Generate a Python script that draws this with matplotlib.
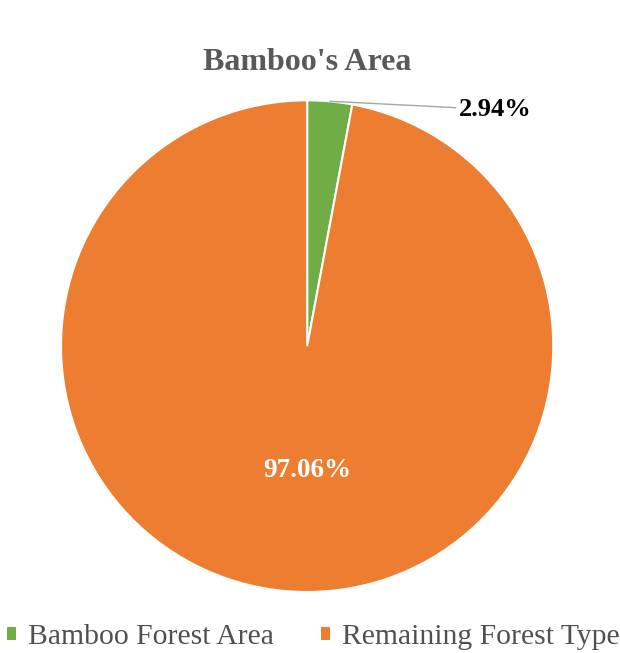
import numpy as np
import matplotlib
matplotlib.use("Agg")
import matplotlib.pyplot as plt
from matplotlib.patches import Patch

# ---------------
# Data
# ---------------
categories = ["Bamboo Forest Area", "Remaining Forest Type"]
shares = [2.94, 97.06]
labels = ["2.94%", "97.06%"]
colors = ["#70AD47", "#ED7D31"]

plt.rcParams['font.family'] = ['Liberation Serif', 'DejaVu Serif']

fig = plt.figure(figsize=(6.2, 6.53), dpi=100)
ax = fig.add_axes([0.0984, 0.0934, 0.794, 0.753])

wedges, _ = ax.pie(shares, colors=colors, startangle=90, counterclock=False,
                   radius=1.0, wedgeprops=dict(edgecolor='white', linewidth=1.5))
ax.set_xlim(-1, 1)
ax.set_ylim(-1, 1)
ax.set_aspect('auto')
ax.axis('off')

# small slice: label outside with a leader line from the rim
ax.annotate(labels[0], xy=(0.093, 0.996), xytext=(0.615, 0.962),
            fontsize=19, fontweight='bold', color='black',
            ha='left', va='center',
            arrowprops=dict(arrowstyle='-', color='#A6A6A6', lw=1,
                            shrinkA=0, shrinkB=0))

# big slice: label inside, lower half
ax.text(0.0, -0.505, labels[1],
        fontsize=19.5, fontweight='bold', color='white', ha='center', va='center')

fig.text(0.495, 0.904, "Bamboo's Area", fontsize=23, fontweight='bold',
         color='#595959', ha='center', va='center')

handles = [Patch(facecolor=c, edgecolor='none') for c in colors]
fig.legend(handles, categories, loc='center', bbox_to_anchor=(0.505, 0.024),
           ncol=2, frameon=False, fontsize=21.3, handlelength=0.3, handleheight=0.3,
           handletextpad=0.4, columnspacing=1.6, labelcolor='#505050',
           borderpad=0, borderaxespad=0)

plt.savefig("out.png", dpi=100)
